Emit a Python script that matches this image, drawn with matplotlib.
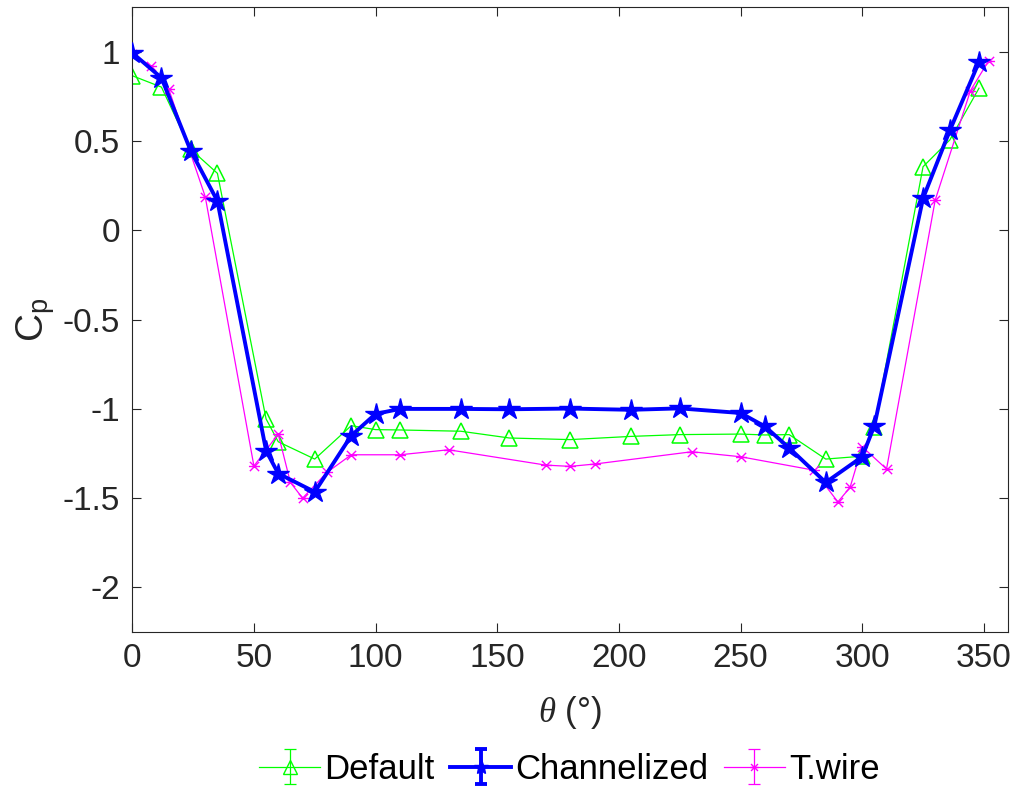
import numpy as np
import matplotlib
matplotlib.use("Agg")
import matplotlib.pyplot as plt
from matplotlib.path import Path
from matplotlib.legend_handler import HandlerErrorbar

plt.rcParams['font.family'] = ['Liberation Sans', 'DejaVu Sans']
plt.rcParams['axes.unicode_minus'] = False
plt.rcParams['mathtext.fontset'] = 'custom'
plt.rcParams['mathtext.rm'] = 'Liberation Sans'
plt.rcParams['mathtext.it'] = 'Liberation Serif:italic'
plt.rcParams['mathtext.sf'] = 'Liberation Sans'

# ---- data ----
theta_default = [0, 12, 24, 35, 55, 60, 75, 90, 100, 110, 135, 155, 180, 205, 225, 250, 260, 270, 285, 300, 305, 325, 336, 348]
cp_default = [0.867, 0.803, 0.455, 0.32, -1.056, -1.184, -1.281, -1.094, -1.116, -1.118, -1.125, -1.163, -1.172, -1.154,
              -1.144, -1.141, -1.146, -1.144, -1.281, -1.265, -1.10, 0.357, 0.507, 0.797]

theta_chan = [0, 12, 24, 35, 55, 60, 75, 90, 100, 110, 135, 155, 180, 205, 225, 250, 260, 270, 285, 300, 305, 325, 336, 348]
cp_chan = [0.995, 0.855, 0.447, 0.165, -1.234, -1.362, -1.465, -1.15, -1.028, -1.0, -1.0, -1.002, -0.998, -1.005,
           -0.997, -1.023, -1.098, -1.219, -1.412, -1.268, -1.094, 0.18, 0.56, 0.944]

theta_twire = [0, 7.5, 15, 30, 50, 60, 65, 70, 80, 90, 110, 130, 170, 180, 190, 230, 250, 280, 290, 295, 300, 310, 330, 344.5, 352]
cp_twire = [0.989, 0.923, 0.792, 0.189, -1.32, -1.141, -1.412, -1.5, -1.356, -1.257, -1.257, -1.229, -1.315, -1.322,
            -1.309, -1.24, -1.268, -1.343, -1.521, -1.44, -1.212, -1.337, 0.17, 0.784, 0.951]

labels = ['Default', 'Channelized', 'T.wire']
colors = ['#00FF00', '#0000FF', '#FF00FF']

xticks = [0, 50, 100, 150, 200, 250, 300, 350]
yticks = [-2, -1.5, -1, -0.5, 0, 0.5, 1]
yticklabels = ['-2', '-1.5', '-1', '-0.5', '0', '0.5', '1']

# asterisk marker (x plus horizontal)
ast = Path([(-1, -1), (1, 1), (-1, 1), (1, -1), (-1.2, 0), (1.2, 0)],
           [Path.MOVETO, Path.LINETO, Path.MOVETO, Path.LINETO, Path.MOVETO, Path.LINETO])

fig = plt.figure(figsize=(10.15, 7.9), dpi=100)
ax = fig.add_axes([0.1303, 0.2, 0.863, 0.7907])

ax.plot(theta_default, cp_default, color=colors[0], lw=0.9, marker='^', ms=11.5,
        mfc='none', mec=colors[0], mew=1.1, zorder=2)
ax.plot(theta_twire, cp_twire, color=colors[2], lw=0.9, marker=ast, ms=8,
        mec=colors[2], mew=1.0, zorder=3)
ax.plot(theta_chan, cp_chan, color=colors[1], lw=2.8, marker='*', ms=16,
        mfc=colors[1], mec=colors[1], zorder=4)

ax.set_xlim(0, 360)
ax.set_ylim(-2.25, 1.25)
ax.set_xticks(xticks)
ax.set_xticklabels([str(v) for v in xticks])
ax.set_yticks(yticks)
ax.set_yticklabels(yticklabels)

for s in ax.spines.values():
    s.set_color('#262626')
    s.set_linewidth(0.8)
ax.tick_params(direction='in', length=6.5, width=0.8, color='#262626', labelcolor='#262626',
               labelsize=24, top=True, right=True)
ax.tick_params(axis='y', pad=9)
ax.tick_params(axis='x', pad=8)

ax.set_xlabel(r'$\theta$ (°)', fontsize=25, color='#262626', labelpad=14)
ax.set_ylabel(r'C$_\mathregular{p}$', fontsize=28, color='#262626', labelpad=3)

# legend handles styled like errorbar entries
h1 = ax.errorbar([np.nan], [np.nan], yerr=[1], color=colors[0], lw=0.9, marker='^', ms=10,
                 mfc='none', mec=colors[0], capsize=4.5, elinewidth=0.9, capthick=0.9)
h2 = ax.errorbar([np.nan], [np.nan], yerr=[1], color=colors[1], lw=2.8, marker='*', ms=11,
                 mfc=colors[1], mec=colors[1], capsize=4.5, elinewidth=2.8, capthick=2.8)
h3 = ax.errorbar([np.nan], [np.nan], yerr=[1], color=colors[2], lw=0.9, marker=ast, ms=6,
                 mec=colors[2], capsize=4.5, elinewidth=0.9, capthick=0.9)

fig.legend([h1, h2, h3], labels, loc='center', bbox_to_anchor=(0.561, 0.026), ncol=3,
           frameon=False, fontsize=25, handlelength=1.75, handletextpad=0.12, columnspacing=0.45,
           handler_map={type(h1): HandlerErrorbar(yerr_size=0.5)})

fig.savefig('out.png', dpi=100)
